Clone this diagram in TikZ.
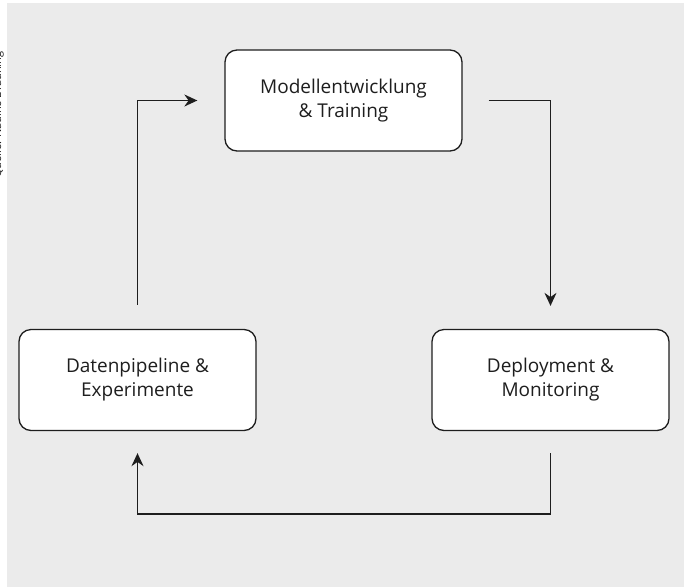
\documentclass[tikz,border=0pt]{standalone}
\usepackage{fontspec}
\setmainfont{Open Sans}
\usetikzlibrary{calc,arrows.meta}
\definecolor{bg}{HTML}{EBEBEB}
\definecolor{ink}{HTML}{1E1E1E}
\tikzset{
  phase/.style={draw=ink, line width=1.3pt, fill=white, rounded corners=12pt,
    minimum width=237pt, minimum height=101pt, align=center,
    font=\fontsize{19}{24}\selectfont, text=ink, inner sep=0pt},
  flow/.style={draw=ink, line width=1.4pt, -{Stealth[length=13pt,width=12pt]}},
}
\begin{document}
\begin{tikzpicture}[x=1pt,y=-1pt]
\useasboundingbox (0,0) rectangle (684,587);
\clip (0,0) rectangle (684,587);
\fill[bg] (7,3) rectangle (684,587);
\node[rotate=90, anchor=base west, font=\fontsize{11}{13}\selectfont, text=ink, inner sep=0pt] (src) at (1.2,178) {Quelle: Nadine Bräuning};
\node[phase] (mt) at (343.5,100.5) {Modellentwicklung\\\& Training};
\node[phase] (dp) at (137.5,380) {Datenpipeline \&\\Experimente};
\node[phase] (dm) at (550.5,380) {Deployment \&\\Monitoring};
\coordinate (a1s) at ($(dp.north)+(0,-24)$);
\coordinate (a1c) at (a1s |- mt.west);
\coordinate (a1e) at ($(mt.west)+(-27,0)$);
\coordinate (a2s) at ($(mt.east)+(26,0)$);
\coordinate (a2c) at (dm.north |- mt.east);
\coordinate (a2e) at ($(dm.north)+(0,-23)$);
\coordinate (a3s) at ($(dm.south)+(0,22)$);
\coordinate (a3c) at ($(dm.south)+(0,83)$);
\coordinate (a3d) at (dp.south |- a3c);
\coordinate (a3e) at ($(dp.south)+(0,22)$);
\draw[flow] (a1s) -- (a1c) -- (a1e);
\draw[flow] (a2s) -- (a2c) -- (a2e);
\draw[flow] (a3s) -- (a3c) -- (a3d) -- (a3e);
\end{tikzpicture}
\end{document}
